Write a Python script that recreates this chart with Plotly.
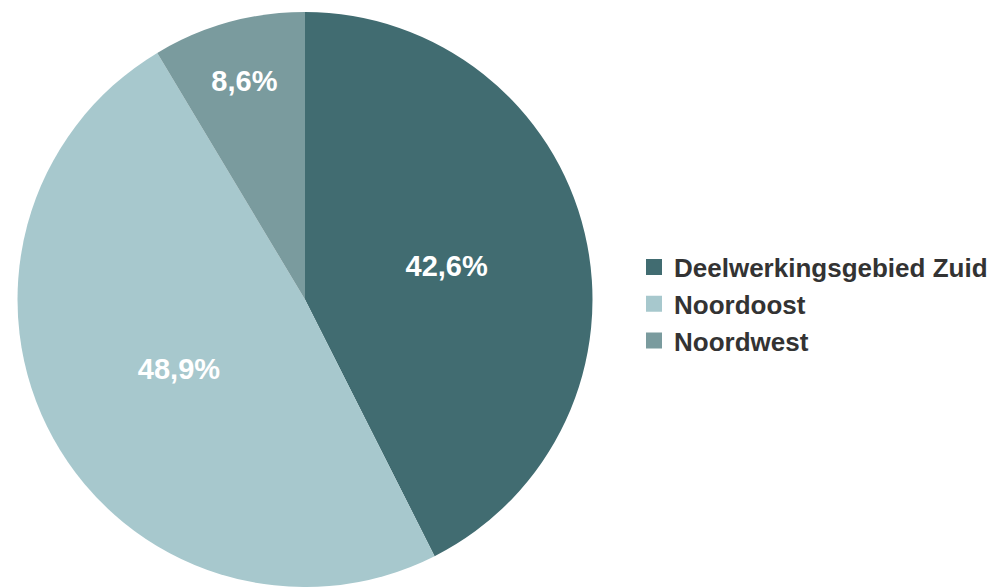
import plotly.graph_objects as go

regions = ["Deelwerkingsgebied Zuid", "Noordoost", "Noordwest"]
shares = [42.6, 48.9, 8.6]
share_labels = ["42,6%", "48,9%", "8,6%"]
colors = ["#416c71", "#a7c8cd", "#7a9b9e"]

W, H = 1001, 587
top = 12
radius = (H - top) / 2
cx = 305

fig = go.Figure()

fig.add_trace(
    go.Pie(
        labels=regions,
        values=shares,
        text=share_labels,
        textinfo="text",
        textposition="inside",
        insidetextorientation="horizontal",
        textfont=dict(family="Liberation Sans", size=29, color="white", weight="bold"),
        marker=dict(colors=colors, line=dict(width=0)),
        sort=False,
        direction="clockwise",
        rotation=0,
        hoverinfo="label+text",
        showlegend=False,
        domain=dict(x=[(cx - radius) / W, (cx + radius) / W], y=[0, 1]),
    )
)

# legend entries with large square swatches
for name, col in zip(regions, colors):
    fig.add_trace(
        go.Scatter(
            x=[None],
            y=[None],
            mode="markers",
            name=name,
            marker=dict(symbol="square", size=22, color=col),
            showlegend=True,
            hoverinfo="skip",
        )
    )

fig.update_layout(
    width=W,
    height=H,
    margin=dict(l=0, r=0, t=top, b=0, autoexpand=False),
    paper_bgcolor="white",
    plot_bgcolor="rgba(0,0,0,0)",
    xaxis=dict(visible=False),
    yaxis=dict(visible=False),
    legend=dict(
        x=634 / W,
        y=0.492,
        xanchor="left",
        yanchor="middle",
        font=dict(family="Liberation Sans", size=26, color="#333333", weight="bold"),
        itemsizing="trace",
        tracegroupgap=0,
        bgcolor="rgba(0,0,0,0)",
    ),
)

fig.write_html("out.html")
